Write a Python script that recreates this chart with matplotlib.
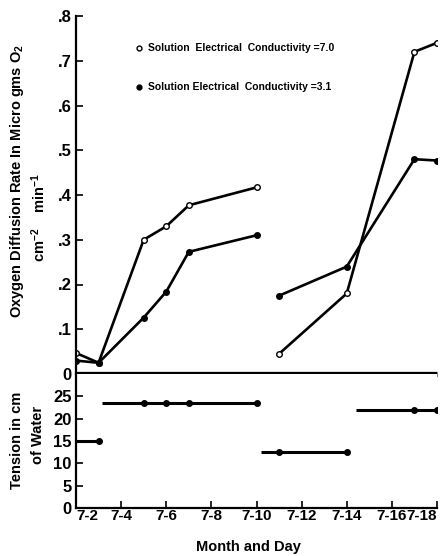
import matplotlib.pyplot as plt
import numpy as np

plt.rcParams['font.family'] = ['Liberation Sans', 'DejaVu Sans']
plt.rcParams['mathtext.fontset'] = 'custom'
plt.rcParams['mathtext.rm'] = 'Liberation Sans:bold'
plt.rcParams['mathtext.default'] = 'rm'

# --- data ---
# oxygen diffusion rate, two runs split by a gap after 7-10
days_a = [2, 3, 5, 6, 7, 10]
days_b = [11, 14, 17, 18]
odr_70_a = [0.047, 0.025, 0.30, 0.33, 0.377, 0.417]
odr_70_b = [0.045, 0.18, 0.72, 0.74]
odr_31_a = [0.03, 0.025, 0.126, 0.184, 0.273, 0.31]
odr_31_b = [0.175, 0.24, 0.48, 0.477]

# tension in cm of water, held steady over intervals
tension_start = [2, 3.15, 10.2, 14.4]
tension_end = [3, 10, 14, 18]
tension_value = [15, 23.5, 12.5, 22]
tension_days = [3, 5, 6, 7, 10, 11, 14, 17, 18]
tension_at_day = [15, 23.5, 23.5, 23.5, 23.5, 12.5, 12.5, 22, 22]

xticks = [2, 4, 6, 8, 10, 12, 14, 16, 18]
xlabels = ['7-2', '7-4', '7-6', '7-8', '7-10', '7-12', '7-14', '7-16', '7-18']
odr_ticks = [0, 0.1, 0.2, 0.3, 0.4, 0.5, 0.6, 0.7, 0.8]
odr_labels = ['0', '.1', '.2', '.3', '.4', '.5', '.6', '.7', '.8']
ten_ticks = [0, 5, 10, 15, 20, 25]

W, H = 447, 556
fig = plt.figure(figsize=(W / 100, H / 100), dpi=100)

def box(x0, y0, x1, y1):
    # pixel box (top-left origin) -> figure fraction
    return [x0 / W, 1 - y1 / H, (x1 - x0) / W, (y1 - y0) / H]

ax = fig.add_axes(box(76, 16, 437, 374))
ax2 = fig.add_axes(box(76, 374, 437, 508), sharex=ax)

lw = 1.9
ax.plot(days_a, odr_70_a, 'k-', lw=lw, marker='o', ms=4, mfc='white', mew=1)
ax.plot(days_b, odr_70_b, 'k-', lw=lw, marker='o', ms=4, mfc='white', mew=1)
ax.plot(days_a, odr_31_a, 'k-', lw=lw, marker='o', ms=4, mfc='black')
ax.plot(days_b, odr_31_b, 'k-', lw=lw, marker='o', ms=4, mfc='black')

# heavy base line separating the two panels
ax.plot([2, 18], [0, 0], 'k-', lw=3.8, clip_on=False, solid_capstyle='butt')

for s, e, v in zip(tension_start, tension_end, tension_value):
    ax2.plot([s, e], [v, v], 'k-', lw=2.2, solid_capstyle='butt')
ax2.plot(tension_days, tension_at_day, 'ko', ms=4, ls='none')

ax.set_xlim(2, 18)
ax.set_ylim(0, 0.8)
ax2.set_ylim(0, 30)

for a in (ax, ax2):
    for sp in ('top', 'right'):
        a.spines[sp].set_visible(False)
    a.spines['left'].set_linewidth(1.6)
    a.tick_params(direction='in', length=5, width=1.2, labelsize=12, pad=3)
ax.spines['bottom'].set_visible(False)
ax2.spines['bottom'].set_linewidth(1.6)

ax.set_yticks(odr_ticks)
ax.set_yticklabels(odr_labels, fontweight='bold')
ax.tick_params(axis='x', bottom=False, labelbottom=False)
ax2.set_yticks(ten_ticks)
ax2.set_yticklabels([str(t) for t in ten_ticks], fontweight='bold')
ax2.set_xticks(xticks)
ax2.set_xticklabels(xlabels, fontweight='bold', fontsize=11)
ax2.tick_params(axis='x', pad=1)
ticklabs = ax2.get_xticklabels()
ticklabs[0].set_ha('left')
ticklabs[-1].set_ha('right')

# legend drawn as plain text with markers
ax.plot([4.8], [0.729], 'o', color='k', mfc='white', ms=3.5, mew=1)
ax.text(5.2, 0.729, 'Solution  Electrical  Conductivity =7.0', fontsize=7.5,
        fontweight='bold', va='center')
ax.plot([4.8], [0.642], 'o', color='k', ms=3.5)
ax.text(5.2, 0.642, 'Solution Electrical  Conductivity =3.1', fontsize=7.5,
        fontweight='bold', va='center')

fig.text(17 / W, 1 - 181 / H, 'Oxygen Diffusion Rate In Micro gms O$_2$',
         rotation=90, ha='center', va='center', fontsize=10.5, fontweight='bold')
fig.text(39 / W, 1 - 217 / H, 'cm$^{-2}$    min$^{-1}$',
         rotation=90, ha='center', va='center', fontsize=10.5, fontweight='bold')
fig.text(17 / W, 1 - 440 / H, 'Tension in cm',
         rotation=90, ha='center', va='center', fontsize=10.5, fontweight='bold')
fig.text(38 / W, 1 - 435 / H, 'of Water',
         rotation=90, ha='center', va='center', fontsize=10.5, fontweight='bold')
fig.text(248 / W, 1 - 547 / H, 'Month and Day', ha='center', va='center',
         fontsize=10.5, fontweight='bold')

fig.savefig('out.png', dpi=100)
